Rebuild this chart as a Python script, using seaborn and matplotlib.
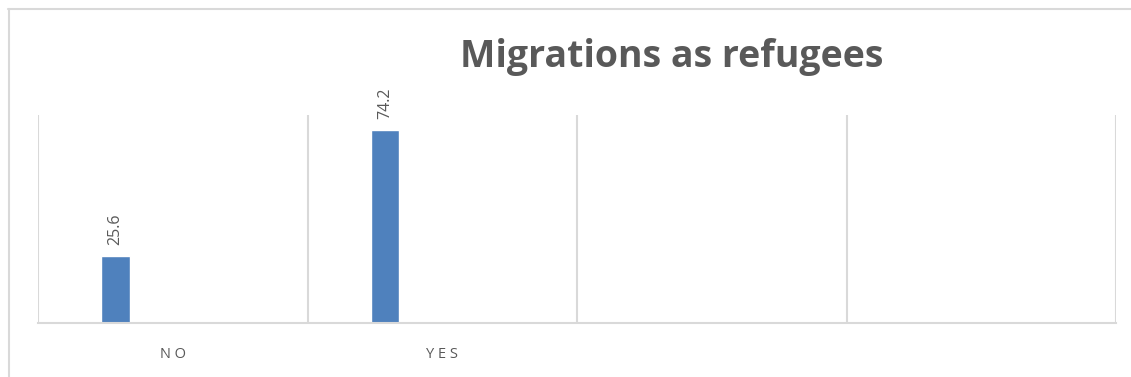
import numpy as np
import pandas as pd
import matplotlib
matplotlib.use("Agg")
import matplotlib.pyplot as plt
import seaborn as sns

# chart data
categories = ["NO", "YES", " ", "  "]
series_names = ["S1", "S2", "S3", "S4", "S5"]
values = [25.6, 74.2, np.nan, np.nan]

df = pd.DataFrame({"category": categories, "series": "S1", "value": values})

sns.set_style("white")
plt.rcParams["font.family"] = ["Open Sans", "DejaVu Sans"]

grid_col = "#d9d9d9"
text_col = "#595959"
bar_col = "#4f81bd"

fig = plt.figure(figsize=(11.31, 3.77), dpi=100)
ax = fig.add_axes([38 / 1131, 1 - 323 / 377, (1116 - 38) / 1131, (323 - 115) / 377])

sns.barplot(data=df, x="category", y="value", hue="series", hue_order=series_names,
            order=categories, palette=[bar_col] * 5, saturation=1, width=0.53,
            dodge=True, legend=False, errorbar=None, ax=ax)

ax.set_xlim(-0.5, len(categories) - 0.5)
ax.set_ylim(0, 80)
ax.set_xlabel("")
ax.set_ylabel("")
ax.set_yticks([])

# vertical gridlines at category boundaries
for b in np.arange(-0.5, len(categories), 1.0):
    ax.axvline(b, color=grid_col, lw=1.5, zorder=0)

for s in ["top", "right", "left"]:
    ax.spines[s].set_visible(False)
ax.spines["bottom"].set_color(grid_col)
ax.spines["bottom"].set_linewidth(1.5)

ax.tick_params(axis="x", length=0, pad=17)
ax.set_xticks(range(len(categories)))
ax.set_xticklabels(["N O", "Y E S", "", ""], color=text_col, fontsize=10.5)

# data labels
for bar in ax.patches:
    h = bar.get_height()
    if np.isnan(h) or h == 0:
        continue
    ax.annotate(f"{h:.1f}", (bar.get_x() + bar.get_width() / 2, h),
                xytext=(0, 8), textcoords="offset points", rotation=90,
                ha="center", va="bottom", color=text_col, fontsize=11.5)

fig.text(0.594, 1 - 57 / 377, "Migrations as refugees", ha="center", va="center",
         fontsize=27, fontweight="bold", color=text_col)

# outer chart frame
fig.add_artist(plt.Line2D([8 / 1131, 1.0], [1 - 9 / 377] * 2, color=grid_col, lw=1.5))
fig.add_artist(plt.Line2D([9 / 1131] * 2, [0, 1 - 9 / 377], color=grid_col, lw=1.5))

fig.savefig("out.png", dpi=100)
